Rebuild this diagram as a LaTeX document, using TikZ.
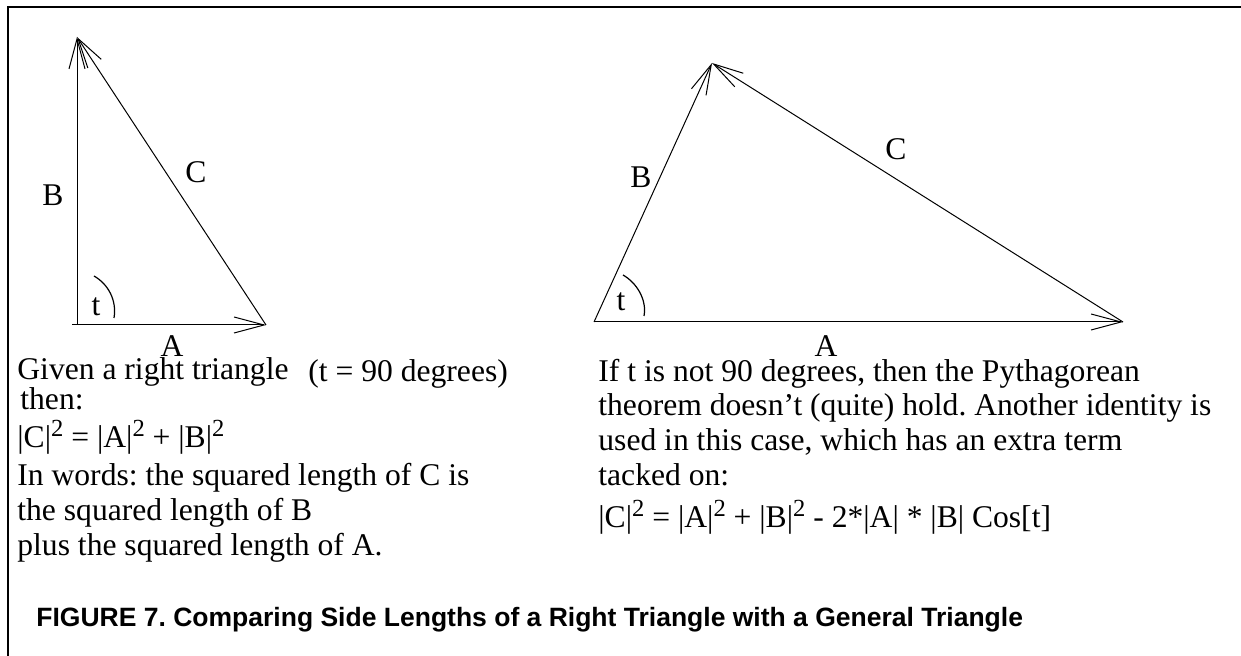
\documentclass[tikz,border=0pt]{standalone}
\usepackage{fontspec}
\setmainfont{Liberation Serif}
\newfontfamily\capfont{Liberation Sans}
\usetikzlibrary{arrows.meta}
\frenchspacing
\newcommand{\sqd}{\raisebox{5.5pt}{\fontsize{12.3pt}{12.3pt}\selectfont 2}}
\tikzset{
  vec/.style={line width=0.5pt,-{Straight Barb[length=15pt,width=8pt,line width=0.5pt]}},
  lbl/.style={inner sep=0pt,font=\fontsize{15.8pt}{18pt}\selectfont},
  txt/.style={inner sep=0pt,anchor=base west,font=\fontsize{15.8pt}{18pt}\selectfont},
  anglearc/.style={line width=0.6pt},
  frameline/.style={line width=1pt}
}
\begin{document}
\begin{tikzpicture}[x=0.5pt,y=-0.5pt]
\useasboundingbox (0,0) rectangle (1241,656);
% frame
\coordinate (FL) at (8,656);
\coordinate (FC) at (8,7);
\coordinate (FR) at (1241,7);
\draw[frameline] (FL) -- (FC) -- (FR);
% left triangle
\coordinate (O1) at (77,325);
\coordinate (O1s) at (72,325);
\coordinate (B1) at (77,37);
\coordinate (A1) at (266,325);
\draw[vec] (O1s) -- (A1);
\draw[vec] (O1) -- (B1);
\draw[vec] (A1) -- (B1);
\coordinate (t1a) at (94,276);
\coordinate (t1b) at (114,318);
\draw[anglearc] (t1a) .. controls (108,284) and (117,300) .. (t1b);
\node[lbl] (lB1) at (53,195) {B};
\node[lbl] (lC1) at (196,172) {C};
\node[lbl] (lt1) at (96,307) {t};
\node[lbl,anchor=base] (lA1) at (172,357) {A};
% right triangle
\coordinate (O2) at (594,322);
\coordinate (B2) at (712,63);
\coordinate (A2) at (1123,322);
\draw[vec] (O2) -- (A2);
\draw[vec] (O2) -- (B2);
\draw[vec] (A2) -- (B2);
\coordinate (t2a) at (623,275);
\coordinate (t2b) at (644,316);
\draw[anglearc] (t2a) .. controls (637,283) and (647,300) .. (t2b);
\node[lbl] (lB2) at (641,177) {B};
\node[lbl] (lC2) at (896,149) {C};
\node[lbl] (lt2) at (621,302) {t};
\node[lbl,anchor=base] (lA2) at (826,357) {A};
% left text
\node[txt] (L1) at (17,380) {Given a right triangle};
\node[txt] (L1b) at (308,382) {(t = 90 degrees)};
\node[txt] (L2) at (20,410) {then:};
\node[txt] (L3) at (17,448) {|C|\sqd{} = |A|\sqd{} + |B|\sqd};
\node[txt] (L4) at (17,486) {In words: the squared length of C is};
\node[txt] (L5) at (17,521) {the squared length of B};
\node[txt] (L6) at (17,556) {plus the squared length of A.};
% right text
\node[txt] (R1) at (598,382) {If t is not 90 degrees, then the Pythagorean};
\node[txt] (R2) at (598,416) {theorem doesn’t (quite) hold. Another identity is};
\node[txt] (R3) at (598,451) {used in this case, which has an extra term};
\node[txt] (R4) at (598,486) {tacked on:};
\node[txt] (R5) at (598,528) {|C|\sqd{} = |A|\sqd{} + |B|\sqd{} - 2*|A| * |B| Cos[t]};
% caption
\node[inner sep=0pt,anchor=base west,font=\capfont\bfseries\fontsize{13.25pt}{15pt}\selectfont] (cap) at (36,626) {FIGURE 7. Comparing Side Lengths of a Right Triangle with a General Triangle};
\end{tikzpicture}
\end{document}
